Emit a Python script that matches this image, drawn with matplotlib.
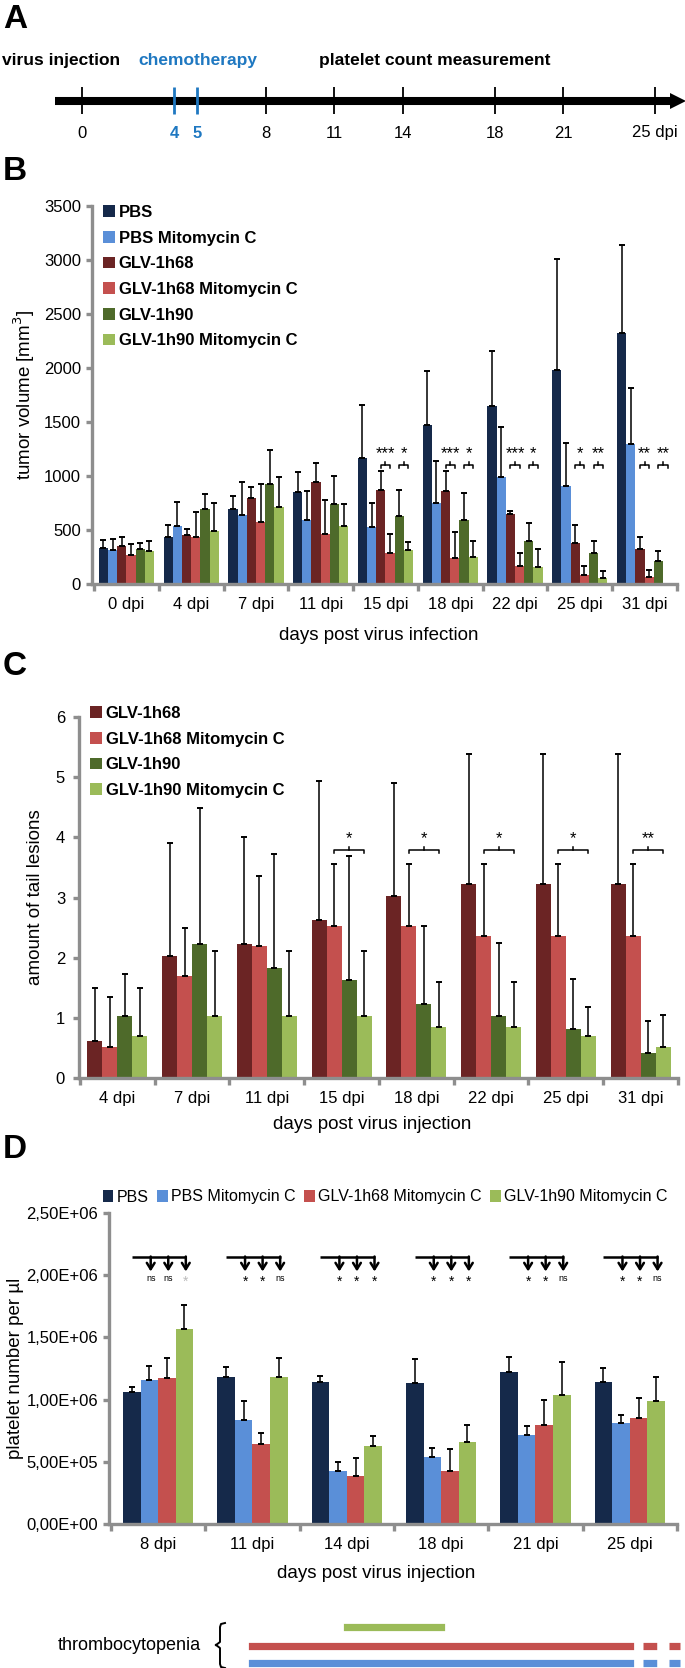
import matplotlib
matplotlib.use("Agg")
import matplotlib.pyplot as plt
import numpy as np
from matplotlib.ticker import FuncFormatter

plt.rcParams["font.family"] = ["Liberation Sans", "DejaVu Sans"]

W, H = 685, 1668

# ---- colours
NAVY = "#15294A"
BLUE = "#5A8FD8"
MAROON = "#6B2424"
RED = "#C4504E"
OLIVE = "#4E6A2A"
GREEN = "#9BBB59"
CHEMO = "#1F78C1"
GRAY = "#8E8E8E"

# ---- panel A: timeline (days post injection)
timeline_days = [0, 4, 5, 8, 11, 14, 18, 21, 25]
chemo_days = [4, 5]

# ---- panel B: tumor volume
b_days = ["0 dpi", "4 dpi", "7 dpi", "11 dpi", "15 dpi", "18 dpi", "22 dpi", "25 dpi", "31 dpi"]
b_names = ["PBS", "PBS Mitomycin C", "GLV-1h68", "GLV-1h68 Mitomycin C", "GLV-1h90", "GLV-1h90 Mitomycin C"]
b_pbs = [337, 439, 690, 850, 1169, 1470, 1646, 1984, 2328]
b_pbs_err = [71, 107, 129, 187, 486, 505, 516, 1021, 815]
b_pbs_mito = [316, 540, 638, 590, 530, 751, 994, 903, 1292]
b_pbs_mito_err = [98, 221, 310, 270, 224, 387, 461, 404, 523]
b_h68 = [350, 454, 800, 940, 872, 862, 644, 383, 322]
b_h68_err = [89, 58, 99, 183, 172, 184, 34, 163, 117]
b_h68_mito = [270, 432, 577, 463, 285, 239, 169, 80, 64]
b_h68_mito_err = [98, 237, 346, 313, 178, 239, 122, 89, 62]
b_h90 = [328, 690, 925, 745, 629, 592, 402, 291, 215]
b_h90_err = [49, 141, 315, 255, 239, 251, 165, 108, 92]
b_h90_mito = [304, 491, 715, 537, 316, 248, 156, 55, np.nan]
b_h90_mito_err = [95, 257, 276, 208, 73, 154, 166, 62, np.nan]
b_sig_groups = [4, 5, 6, 7, 8]
b_sig_h68 = ["***", "***", "***", "*", "**"]
b_sig_h90 = ["*", "*", "*", "**", "**"]
b_sig_level = 1100

# ---- panel C: tail lesions
c_days = ["4 dpi", "7 dpi", "11 dpi", "15 dpi", "18 dpi", "22 dpi", "25 dpi", "31 dpi"]
c_names = ["GLV-1h68", "GLV-1h68 Mitomycin C", "GLV-1h90", "GLV-1h90 Mitomycin C"]
c_h68 = [0.62, 2.02, 2.22, 2.62, 3.03, 3.23, 3.23, 3.23]
c_h68_err = [0.88, 1.88, 1.78, 2.31, 1.87, 2.15, 2.15, 2.15]
c_h68_mito = [0.52, 1.69, 2.20, 2.53, 2.53, 2.36, 2.36, 2.36]
c_h68_mito_err = [0.83, 0.81, 1.15, 1.03, 1.03, 1.20, 1.20, 1.20]
c_h90 = [1.03, 2.22, 1.82, 1.63, 1.23, 1.03, 0.82, 0.42]
c_h90_err = [0.70, 2.27, 1.91, 2.06, 1.29, 1.22, 0.82, 0.53]
c_h90_mito = [0.69, 1.03, 1.03, 1.03, 0.85, 0.85, 0.69, 0.52]
c_h90_mito_err = [0.81, 1.08, 1.08, 1.08, 0.75, 0.75, 0.49, 0.52]
c_sig_groups = [3, 4, 5, 6, 7]
c_sig = ["*", "*", "*", "*", "**"]
c_sig_level = 3.79

# ---- panel D: platelets
d_days = ["8 dpi", "11 dpi", "14 dpi", "18 dpi", "21 dpi", "25 dpi"]
d_names = ["PBS", "PBS Mitomycin C", "GLV-1h68 Mitomycin C", "GLV-1h90 Mitomycin C"]
d_pbs = np.array([1.064, 1.179, 1.139, 1.136, 1.220, 1.139]) * 1e6
d_pbs_err = np.array([0.035, 0.080, 0.053, 0.190, 0.120, 0.118]) * 1e6
d_pbs_mito = np.array([1.158, 0.836, 0.428, 0.541, 0.715, 0.809]) * 1e6
d_pbs_mito_err = np.array([0.114, 0.156, 0.073, 0.067, 0.072, 0.067]) * 1e6
d_h68_mito = np.array([1.171, 0.643, 0.386, 0.428, 0.795, 0.849]) * 1e6
d_h68_mito_err = np.array([0.161, 0.086, 0.142, 0.172, 0.202, 0.161]) * 1e6
d_h90_mito = np.array([1.565, 1.179, 0.627, 0.656, 1.037, 0.991]) * 1e6
d_h90_mito_err = np.array([0.196, 0.153, 0.080, 0.139, 0.262, 0.193]) * 1e6
d_sig = [["ns", "ns", "*"], ["*", "*", "ns"], ["*", "*", "*"],
         ["*", "*", "*"], ["*", "*", "ns"], ["*", "*", "ns"]]
d_sig_faded = [(0, 2)]
d_line_level, d_arrow_tip = 2.15e6, 2.03e6

# thrombocytopenia spans (in platelet group index)
thrombo_green = (2, 3)
thrombo_red = (1, 5)
thrombo_blue = (1, 5)
thrombo_tail = (5.14, 5.53)


def rect(left, top, right, bottom):
    return [left / W, 1 - bottom / H, (right - left) / W, (bottom - top) / H]


def style_axes(ax, ngroups):
    for s in ("top", "right"):
        ax.spines[s].set_visible(False)
    for s in ("left", "bottom"):
        ax.spines[s].set_color(GRAY)
        ax.spines[s].set_linewidth(2.4)
    ax.set_xticks(np.arange(ngroups))
    ax.set_xticks(np.arange(-0.5, ngroups), minor=True)
    ax.tick_params(axis="x", which="major", length=0, pad=9, labelsize=12)
    ax.tick_params(axis="x", which="minor", length=5, width=2.4, color=GRAY)
    ax.tick_params(axis="y", length=4, width=2.4, color=GRAY, labelsize=12, pad=4)


def draw_bars(ax, series, errs, colors, names, width):
    n = len(series)
    x = np.arange(len(series[0]))
    for i in range(n):
        vals = np.asarray(series[i], dtype=float)
        err = np.asarray(errs[i], dtype=float)
        ax.bar(x + (i - (n - 1) / 2) * width, vals, width, color=colors[i], label=names[i],
               yerr=[np.zeros_like(err), err],
               error_kw=dict(ecolor="black", elinewidth=1.1, capsize=2.4, capthick=1.4))
    return x


def bracket(ax, x1, x2, y, d, text, fs):
    ax.plot([x1, x1, x2, x2], [y - d, y, y, y - d], color="black", lw=1.1)
    xm = (x1 + x2) / 2
    ax.plot([xm, xm], [y, y + d], color="black", lw=1.1)
    ax.text(xm, y + 1.2 * d, text, ha="center", va="bottom", fontsize=fs)


fig = plt.figure(figsize=(W / 100, H / 100), dpi=100)

# ---------------- panel A
axA = fig.add_axes(rect(0, 0, W, 150))
px0, pxd = 82.4, 22.9
axA.set_xlim(-px0 / pxd, (W - px0) / pxd)
axA.set_ylim(150, 0)
axA.axis("off")
axA.plot([-1.2, 25.85], [101, 101], color="black", lw=5.8, solid_capstyle="butt")
axA.plot([26.0], [101], marker=">", ms=11, color="black", mew=0)
for d in timeline_days:
    chemo = d in chemo_days
    axA.plot([d, d], [87, 114], color=CHEMO if chemo else "black", lw=2.0 if chemo else 1.3,
             solid_capstyle="butt")
    lab = f"{d} dpi" if d == timeline_days[-1] else str(d)
    axA.text(d, 133, lab, ha="center", va="center",
             fontsize=12, color=CHEMO if chemo else "black",
             fontweight="bold" if chemo else "normal")
fig.text(2 / W, 1 - 60 / H, "virus injection", fontsize=12.5, fontweight="bold", va="center")
fig.text(138 / W, 1 - 60 / H, "chemotherapy", fontsize=12.5, fontweight="bold", va="center", color=CHEMO)
fig.text(319 / W, 1 - 60 / H, "platelet count measurement", fontsize=12.5, fontweight="bold", va="center")

for letter, ypx in (("A", 20), ("B", 171), ("C", 667), ("D", 1150)):
    fig.text(3 / W, 1 - ypx / H, letter, fontsize=24, fontweight="bold", va="center")

# ---------------- panel B
axB = fig.add_axes(rect(92, 206, 677, 584))
wb = 0.142
draw_bars(axB, [b_pbs, b_pbs_mito, b_h68, b_h68_mito, b_h90, b_h90_mito],
          [b_pbs_err, b_pbs_mito_err, b_h68_err, b_h68_mito_err, b_h90_err, b_h90_mito_err],
          [NAVY, BLUE, MAROON, RED, OLIVE, GREEN], b_names, wb)
style_axes(axB, len(b_days))
axB.set_xticklabels(b_days)
axB.set_xlim(-0.53, len(b_days) - 0.5)
axB.set_ylim(0, 3500)
axB.set_yticks(np.arange(0, 3501, 500))
axB.set_ylabel("tumor volume [mm$^3$]", fontsize=13.5, va="center")
axB.yaxis.set_label_coords(-0.116, 0.5)
axB.set_xlabel("days post virus infection", fontsize=13.5, va="center")
axB.xaxis.set_label_coords(0.49, -0.135)
for g, s68, s90 in zip(b_sig_groups, b_sig_h68, b_sig_h90):
    bracket(axB, g - 0.5 * wb, g + 0.5 * wb, b_sig_level, 30, s68, 12)
    bracket(axB, g + 1.5 * wb, g + 2.5 * wb, b_sig_level, 30, s90, 12)
axB.legend(loc="upper left", bbox_to_anchor=(103 / W, 1 - 205 / H), bbox_transform=fig.transFigure,
           frameon=False, borderpad=0, borderaxespad=0, handlelength=0.7, handleheight=0.7,
           handletextpad=0.25, labelspacing=0.64, prop=dict(size=12, weight="bold"))

# ---------------- panel C
axC = fig.add_axes(rect(79, 717, 678, 1078))
wc = 0.2
draw_bars(axC, [c_h68, c_h68_mito, c_h90, c_h90_mito],
          [c_h68_err, c_h68_mito_err, c_h90_err, c_h90_mito_err],
          [MAROON, RED, OLIVE, GREEN], c_names, wc)
style_axes(axC, len(c_days))
axC.set_xticklabels(c_days)
axC.set_xlim(-0.513, len(c_days) - 0.5)
axC.set_ylim(0, 6)
axC.set_yticks(np.arange(0, 7))
axC.tick_params(axis="y", pad=6)
axC.set_ylabel("amount of tail lesions", fontsize=13.5, va="center")
axC.yaxis.set_label_coords(-0.073, 0.5)
axC.set_xlabel("days post virus injection", fontsize=13.5, va="center")
axC.xaxis.set_label_coords(0.49, -0.13)
for g, s in zip(c_sig_groups, c_sig):
    bracket(axC, g - 0.5 * wc, g + 1.5 * wc, c_sig_level, 0.05, s, 12)
axC.legend(loc="upper left", bbox_to_anchor=(90 / W, 1 - 706 / H), bbox_transform=fig.transFigure,
           frameon=False, borderpad=0, borderaxespad=0, handlelength=0.7, handleheight=0.7,
           handletextpad=0.25, labelspacing=0.64, prop=dict(size=12, weight="bold"))

# ---------------- panel D
axD = fig.add_axes(rect(109, 1213, 677, 1524))
wd = 0.186
draw_bars(axD, [d_pbs, d_pbs_mito, d_h68_mito, d_h90_mito],
          [d_pbs_err, d_pbs_mito_err, d_h68_mito_err, d_h90_mito_err],
          [NAVY, BLUE, RED, GREEN], d_names, wd)
style_axes(axD, len(d_days))
axD.set_xticklabels(d_days)
axD.set_xlim(-0.52, len(d_days) - 0.5)
axD.set_ylim(0, 2.5e6)
axD.set_yticks(np.arange(0, 2.51e6, 5e5))
axD.yaxis.set_major_formatter(FuncFormatter(lambda v, p: f"{v:.2E}".replace(".", ",")))
axD.set_ylabel("platelet number per µl", fontsize=13.5, va="center")
axD.yaxis.set_label_coords(-0.165, 0.5)
axD.set_xlabel("days post virus injection", fontsize=13.5, va="center")
axD.xaxis.set_label_coords(0.47, -0.158)
for g, labels in enumerate(d_sig):
    xs = g + (np.arange(4) - 1.5) * wd
    axD.plot([xs[0], xs[3] + 0.02], [d_line_level, d_line_level], color="black", lw=1.8,
             solid_capstyle="butt")
    for k, lab in enumerate(labels):
        xk = xs[k + 1] + 0.015
        axD.annotate("", xy=(xk, d_arrow_tip), xytext=(xk, d_line_level),
                     arrowprops=dict(arrowstyle="->,head_length=0.45,head_width=0.28", lw=1.8,
                                     color="black", shrinkA=0, shrinkB=0))
        faded = (g, k) in d_sig_faded
        star = lab == "*"
        axD.text(xk, d_arrow_tip - (0.03e6 if star else 0.02e6), lab, ha="center", va="top",
                 fontsize=10 if star else 6.5, color="#BBBBBB" if faded else "black")
axD.legend(loc="center left", bbox_to_anchor=(103 / W, 1 - 1197 / H), bbox_transform=fig.transFigure,
           ncol=4, frameon=False, borderpad=0, borderaxespad=0, handlelength=0.65, handleheight=0.7,
           handletextpad=0.2, columnspacing=0.55, prop=dict(size=11.5))

# thrombocytopenia bars, on the platelet x scale
axT = fig.add_axes(rect(109, 1610, 677, 1668))
axT.set_xlim(axD.get_xlim())
axT.set_ylim(1668, 1610)
axT.axis("off")
for span, col, ypx in ((thrombo_green, GREEN, 1627), (thrombo_red, RED, 1646), (thrombo_blue, BLUE, 1663)):
    axT.plot(span, [ypx, ypx], color=col, lw=5.2, solid_capstyle="projecting", clip_on=False)
    if col != GREEN:
        axT.plot(thrombo_tail, [ypx, ypx], color=col, lw=5.2, dashes=(1.9, 1.7),
                 dash_capstyle="butt", clip_on=False)
fig.text(201 / W, 1 - 1645 / H, "thrombocytopenia", fontsize=13, ha="right", va="center")

# curly brace drawn in pixel space
axO = fig.add_axes([0, 0, 1, 1])
axO.set_xlim(0, W)
axO.set_ylim(H, 0)
axO.axis("off")
axO.plot([225, 221, 220, 220, 216], [1623, 1624, 1627, 1642, 1645], color="black", lw=1.4)
axO.plot([216, 220, 220, 221, 225], [1645, 1648, 1664, 1667, 1668], color="black", lw=1.4)

fig.savefig("out.png", dpi=100)
